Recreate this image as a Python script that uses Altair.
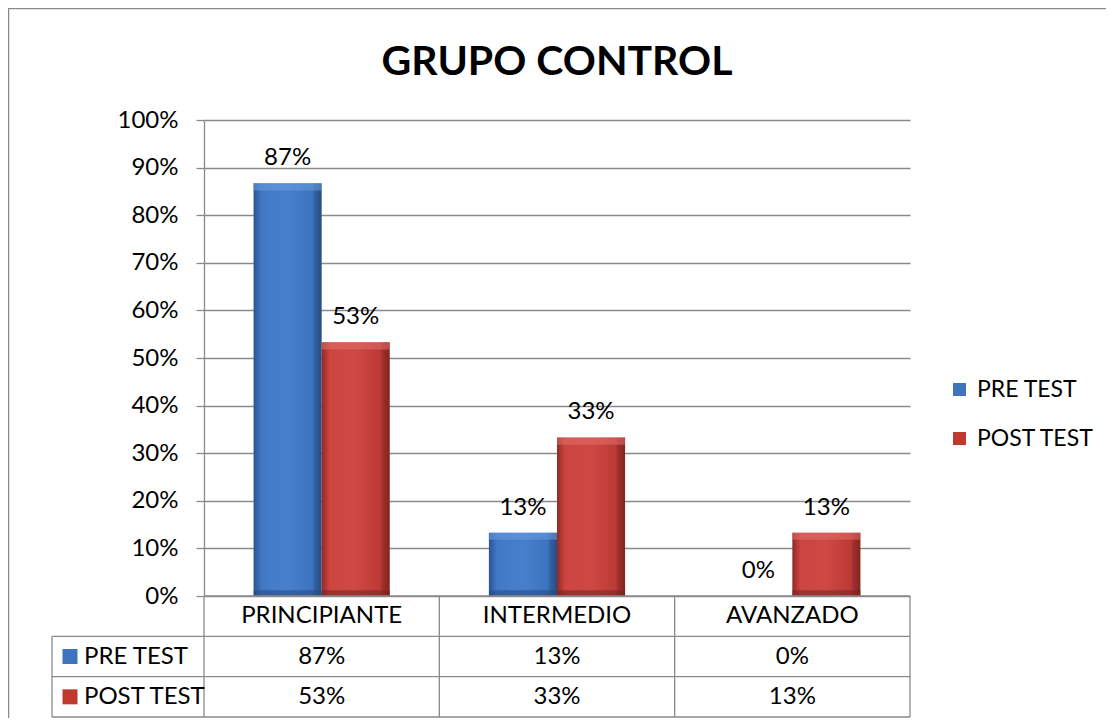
import altair as alt
import pandas as pd

# ---------------- data ----------------
categories = ["PRINCIPIANTE", "INTERMEDIO", "AVANZADO"]
series = ["PRE TEST", "POST TEST"]
pre_values = [86.7, 13.3, 0.0]
post_values = [53.3, 33.3, 13.3]
y_ticks = [0, 10, 20, 30, 40, 50, 60, 70, 80, 90, 100]
series_colors = ["#3e74be", "#c0392f"]

records = []
for c, v in zip(categories, pre_values):
    records.append({"cat": c, "series": "PRE TEST", "value": v})
for c, v in zip(categories, post_values):
    records.append({"cat": c, "series": "POST TEST", "value": v})
df = pd.DataFrame(records)
df["label"] = df["value"].round().astype(int).astype(str) + "%"
df["row"] = df["series"]

cat_df = pd.DataFrame({"cat": categories, "row": ["CAT"] * len(categories)})
key_df = pd.DataFrame({"row": series})
one_df = pd.DataFrame({"a": [0]})

# ---------------- layout / style ----------------
W = 706
PLOT_H = 476
TABLE_BOTTOM = 597
FONT = "Lato"
FS = 24
GRID = "#8a8a8a"

x_scale = alt.Scale(domain=categories, paddingInner=0, paddingOuter=0)
xoff_scale = alt.Scale(domain=series, paddingInner=0, paddingOuter=0.728)
row_scale = alt.Scale(type="band", domain=["CAT", "PRE TEST", "POST TEST"],
                      range=[PLOT_H, TABLE_BOTTOM], paddingInner=0, paddingOuter=0)
color_scale = alt.Scale(domain=series, range=series_colors)


def yscale():
    return alt.Scale(domain=[0, 100], range=[PLOT_H, 0], nice=False)


def grad(stops):
    return alt.Gradient(gradient="linear", x1=0, x2=1, y1=0, y2=0,
                        stops=[alt.GradientStop(offset=o, color=c) for o, c in stops])


blue_grad = grad([(0, "#2a5391"), (0.09, "#3a70bb"), (0.12, "#4179c6"),
                  (0.5, "#4680cc"), (0.86, "#3d73bf"), (0.9, "#33629f"), (1, "#274c85")])
red_grad = grad([(0, "#8e2a27"), (0.09, "#c23d39"), (0.12, "#cc4541"),
                 (0.5, "#cf4844"), (0.86, "#bb3a36"), (0.9, "#9e2f2c"), (1, "#822522")])

X = alt.X("cat:N", scale=x_scale, sort=categories, axis=None)
XO = alt.XOffset("series:N", scale=xoff_scale, sort=series)

y_axis = alt.Axis(values=y_ticks, labelExpr="datum.value + '%'", title=None,
                  grid=True, gridColor=GRID, gridWidth=1.3,
                  domainColor=GRID, domainWidth=1.3,
                  tickColor=GRID, tickWidth=1.3, tickSize=8,
                  labelFont=FONT, labelFontSize=FS, labelColor="black", labelPadding=18)

base = alt.Chart(df)


def bar_layer(s, fill, with_axis):
    return base.transform_filter(alt.datum.series == s).mark_bar(fill=fill, strokeWidth=0).encode(
        x=X, xOffset=XO,
        y=alt.Y("value:Q", scale=yscale(), axis=y_axis if with_axis else None),
    )


def bevel_layer(s, color, top):
    if top:
        calc = alt.expr.max(alt.datum.value - 1.5, 0)
        enc = dict(y=alt.Y("value:Q", scale=yscale(), axis=None), y2="v2:Q")
    else:
        calc = alt.expr.min(alt.datum.value, 1.2)
        enc = dict(y=alt.Y("v2:Q", scale=yscale(), axis=None), y2=alt.Y2(datum=0))
    return (base.transform_filter((alt.datum.series == s) & (alt.datum.value > 0))
            .transform_calculate(v2=calc)
            .mark_bar(color=color, opacity=0.55, strokeWidth=0)
            .encode(x=X, xOffset=XO, **enc))


border = alt.Chart(one_df).mark_rect(fillOpacity=0, stroke=GRID, strokeWidth=1.5).encode(
    x=alt.value(-195.5), x2=alt.value(1000), y=alt.value(-111.5), y2=alt.value(800))

bars = [
    bar_layer("PRE TEST", blue_grad, True),
    bar_layer("POST TEST", red_grad, False),
    bevel_layer("PRE TEST", "#6a9ce0", True),
    bevel_layer("POST TEST", "#e2706b", True),
    bevel_layer("PRE TEST", "#24497f", False),
    bevel_layer("POST TEST", "#7a2220", False),
]

labels = base.mark_text(font=FONT, fontSize=FS, color="black", baseline="alphabetic", dy=-18).encode(
    x=X, xOffset=XO, y=alt.Y("value:Q", scale=yscale(), axis=None), text="label:N")

legend_proxy = base.mark_square(opacity=0).encode(
    x=X, xOffset=XO, y=alt.Y("value:Q", scale=yscale(), axis=None),
    color=alt.Color("series:N", scale=color_scale, sort=series,
                    legend=alt.Legend(orient="none", legendX=744, legendY=258, title=None,
                                      symbolType="square", symbolSize=169, symbolOpacity=1,
                                      symbolStrokeWidth=0, labelFont=FONT, labelFontSize=23,
                                      labelColor="black", rowPadding=25, labelOffset=6)),
)

# ---------------- data table ----------------
def row_y(band=None):
    if band is None:
        return alt.Y("row:N", scale=row_scale, axis=None)
    return alt.Y("row:N", scale=row_scale, axis=None, bandPosition=band)


header_text = alt.Chart(cat_df).mark_text(font=FONT, fontSize=FS, color="black", baseline="middle").encode(
    x=X, y=row_y(), text="cat:N")

value_text = base.mark_text(font=FONT, fontSize=FS, color="black", baseline="middle").encode(
    x=X, y=row_y(), text="label:N")

key_squares = alt.Chart(key_df).mark_square(size=225, opacity=1, strokeWidth=0).encode(
    x=alt.value(-134), y=row_y(),
    color=alt.Color("row:N", scale=color_scale, legend=None))

key_text = alt.Chart(key_df).mark_text(font=FONT, fontSize=FS, color="black", align="left",
                                      baseline="middle").encode(
    x=alt.value(-120), y=row_y(), text="row:N")

rule_style = dict(color=GRID, strokeWidth=1.3)

h_rules_inner = alt.Chart(key_df).mark_rule(**rule_style).encode(
    y=row_y(0), x=alt.value(-152), x2=alt.value(W))
h_rule_bottom = alt.Chart(key_df).transform_filter(alt.datum.row == "POST TEST").mark_rule(**rule_style).encode(
    y=row_y(1), x=alt.value(-152), x2=alt.value(W))
h_rule_top = alt.Chart(cat_df).transform_filter(alt.datum.cat == categories[0]).mark_rule(**rule_style).encode(
    y=row_y(0), x=alt.value(0), x2=alt.value(W))

v_rules = alt.Chart(cat_df).mark_rule(**rule_style).encode(
    x=alt.X("cat:N", scale=x_scale, sort=categories, axis=None, bandPosition=0),
    y=alt.value(PLOT_H), y2=alt.value(TABLE_BOTTOM))
v_rule_end = alt.Chart(cat_df).transform_filter(alt.datum.cat == categories[-1]).mark_rule(**rule_style).encode(
    x=alt.X("cat:N", scale=x_scale, sort=categories, axis=None, bandPosition=1),
    y=alt.value(PLOT_H), y2=alt.value(TABLE_BOTTOM))
v_rule_key = alt.Chart(key_df).transform_filter(alt.datum.row == "PRE TEST").mark_rule(**rule_style).encode(
    x=alt.value(-152), y=row_y(0), y2=alt.value(TABLE_BOTTOM))

chart = alt.layer(
    *bars, labels, legend_proxy,
    h_rules_inner, h_rule_bottom, h_rule_top, v_rules, v_rule_end, v_rule_key,
    key_squares, key_text, header_text, value_text, border,
).resolve_scale(y="independent").properties(
    width=W, height=TABLE_BOTTOM,
    title=alt.TitleParams("GRUPO CONTROL", font=FONT, fontSize=41, fontWeight="bold",
                          color="black", anchor="middle", baseline="alphabetic", offset=0, dy=108),
    padding={"left": 196, "top": 112, "right": 196, "bottom": 1},
    autosize=alt.AutoSizeParams(type="none"),
).configure(background="white").configure_view(stroke="transparent", strokeWidth=0)

chart.save("out.html", embed_options={"renderer": "svg", "actions": False})
